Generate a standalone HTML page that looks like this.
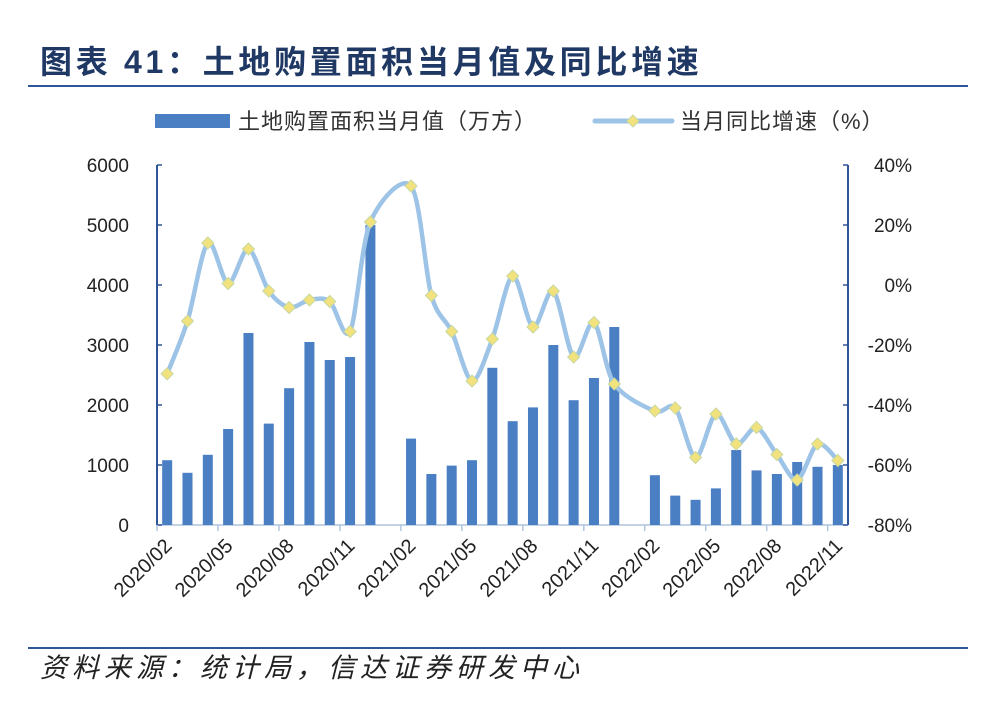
<!DOCTYPE html>
<html><head><meta charset="utf-8"><style>
body{margin:0;background:#fff;width:1000px;height:714px;overflow:hidden;font-family:"Liberation Sans","Noto Sans CJK SC",sans-serif}
</style></head><body>
<svg width="1000" height="714" xmlns="http://www.w3.org/2000/svg">
<text x="40" y="73" font-size="32" font-weight="bold" letter-spacing="3.7" fill="#1f3864" font-family="Liberation Sans,Noto Sans CJK SC,sans-serif">图表 41：土地购置面积当月值及同比增速</text>
<line x1="28" y1="86" x2="968" y2="86" stroke="#2e5597" stroke-width="2"/>
<g>
<rect x="155" y="114" width="75" height="14" fill="#4a7fc4"/>
<text x="238" y="129" font-size="22" letter-spacing="1" fill="#333">土地购置面积当月值（万方）</text>
<line x1="595" y1="121" x2="672" y2="121" stroke="#9dc3e6" stroke-width="5" stroke-linecap="round"/>
<path d="M633 115 L639 121 L633 127 L627 121 Z" fill="#f2e27e" stroke="#c8d8a0" stroke-width="1"/>
<text x="680" y="129" font-size="22" letter-spacing="1" fill="#333">当月同比增速（%）</text>
</g>
<g id="plot"></g>
<line x1="28" y1="648" x2="968" y2="648" stroke="#2e5597" stroke-width="2"/>
<text x="40" y="677" font-size="27" font-style="italic" letter-spacing="5" fill="#222">资料来源：统计局，信达证券研发中心</text>
</svg>
<script>
const categories=["2020/02","2020/03","2020/04","2020/05","2020/06","2020/07","2020/08","2020/09","2020/10","2020/11","2020/12","2021/01","2021/02","2021/03","2021/04","2021/05","2021/06","2021/07","2021/08","2021/09","2021/10","2021/11","2021/12","2022/01","2022/02","2022/03","2022/04","2022/05","2022/06","2022/07","2022/08","2022/09","2022/10","2022/11"];
const barValues=[1080,870,1170,1600,3200,1690,2280,3050,2750,2800,5000,null,1440,850,990,1080,2620,1730,1960,3000,2080,2450,3300,null,830,490,420,610,1250,910,850,1050,970,1000];
const yoyValues=[-29.6,-12,14,0.5,12,-2,-7.5,-5,-5.5,-15.5,21,null,33,-3.5,-15.5,-32,-18,3,-14,-2,-24,-12.5,-33,null,-42,-41,-57.5,-43,-53,-47.5,-56.5,-65,-53,-58.5];
const leftTicks=[0,1000,2000,3000,4000,5000,6000];
const rightTicks=[-80,-60,-40,-20,0,20,40];
const NS="http://www.w3.org/2000/svg";
const g=document.getElementById('plot');
const X0=157,X1=848,Y0=525,Y1=165;
const band=(X1-X0)/categories.length;
const xc=i=>X0+band*(i+0.5);
const yL=v=>Y0-(v/6000)*(Y0-Y1);
const yR=v=>Y0-((v+80)/120)*(Y0-Y1);
function mk(t,a){const e=document.createElementNS(NS,t);for(const k in a)e.setAttribute(k,a[k]);g.appendChild(e);return e;}
let e;
e=mk('line',{x1:X0,y1:Y1,x2:X0,y2:Y0,stroke:'#2e5597','stroke-width':2});


e=mk('line',{x1:X1,y1:Y1,x2:X1,y2:Y0,stroke:'#2e5597','stroke-width':2});


e=mk('line',{x1:X0,y1:Y0,x2:X1,y2:Y0,stroke:'#b0c4de','stroke-width':1.5});


leftTicks.forEach(v=>{
 e=mk('line',{x1:X0,y1:yL(v),x2:X0+5,y2:yL(v),stroke:'#2e5597','stroke-width':1.5});
 
 
 e=mk('text',{x:X0-28,y:yL(v)+7,'font-size':19,'text-anchor':'end',fill:'#222'});e.textContent=v;
 
 
});
rightTicks.forEach(v=>{
 e=mk('line',{x1:X1-5,y1:yR(v),x2:X1,y2:yR(v),stroke:'#2e5597','stroke-width':1.5});
 
 
 e=mk('text',{x:X1+64,y:yR(v)+7,'font-size':19,'text-anchor':'end',fill:'#222'});e.textContent=v+'%';
 
 
});
categories.forEach((c,i)=>{
 if(i%3!==0)return;
 const tx=X0+band*i;
 e=mk('line',{x1:tx,y1:Y0,x2:tx,y2:Y0+6,stroke:'#b0c4de','stroke-width':1.5});
 
 
 e=mk('text',{x:tx+16,y:Y0+22,'font-size':20,'text-anchor':'end',fill:'#222',transform:`rotate(-45 ${tx+16} ${Y0+22})`});e.textContent=c;
 
 
});
barValues.forEach((v,i)=>{
 if(v==null)return;
 e=mk('rect',{x:xc(i)-5,y:yL(v),width:10,height:Y0-yL(v),fill:'#4a7fc4'});
 
 
});
const pts=[];yoyValues.forEach((v,i)=>{if(v!=null)pts.push([xc(i),yR(v)]);});
let d='M'+pts[0][0]+' '+pts[0][1];
for(let i=0;i<pts.length-1;i++){
 const p0=pts[i-1]||pts[i],p1=pts[i],p2=pts[i+1],p3=pts[i+2]||p2,t=0.15;
 d+=` C${p1[0]+(p2[0]-p0[0])*t} ${p1[1]+(p2[1]-p0[1])*t} ${p2[0]-(p3[0]-p1[0])*t} ${p2[1]-(p3[1]-p1[1])*t} ${p2[0]} ${p2[1]}`;
}
e=mk('path',{d:d,fill:'none',stroke:'#9dc3e6','stroke-width':4.5,'stroke-linejoin':'round'});


yoyValues.forEach((v,i)=>{
 if(v==null)return;
 const x=xc(i),y=yR(v);
 e=mk('path',{d:`M${x} ${y-6} L${x+6} ${y} L${x} ${y+6} L${x-6} ${y} Z`,fill:'#f2e27e',stroke:'#c8d8a0','stroke-width':1});
 
 
});
</script>
</body></html>
